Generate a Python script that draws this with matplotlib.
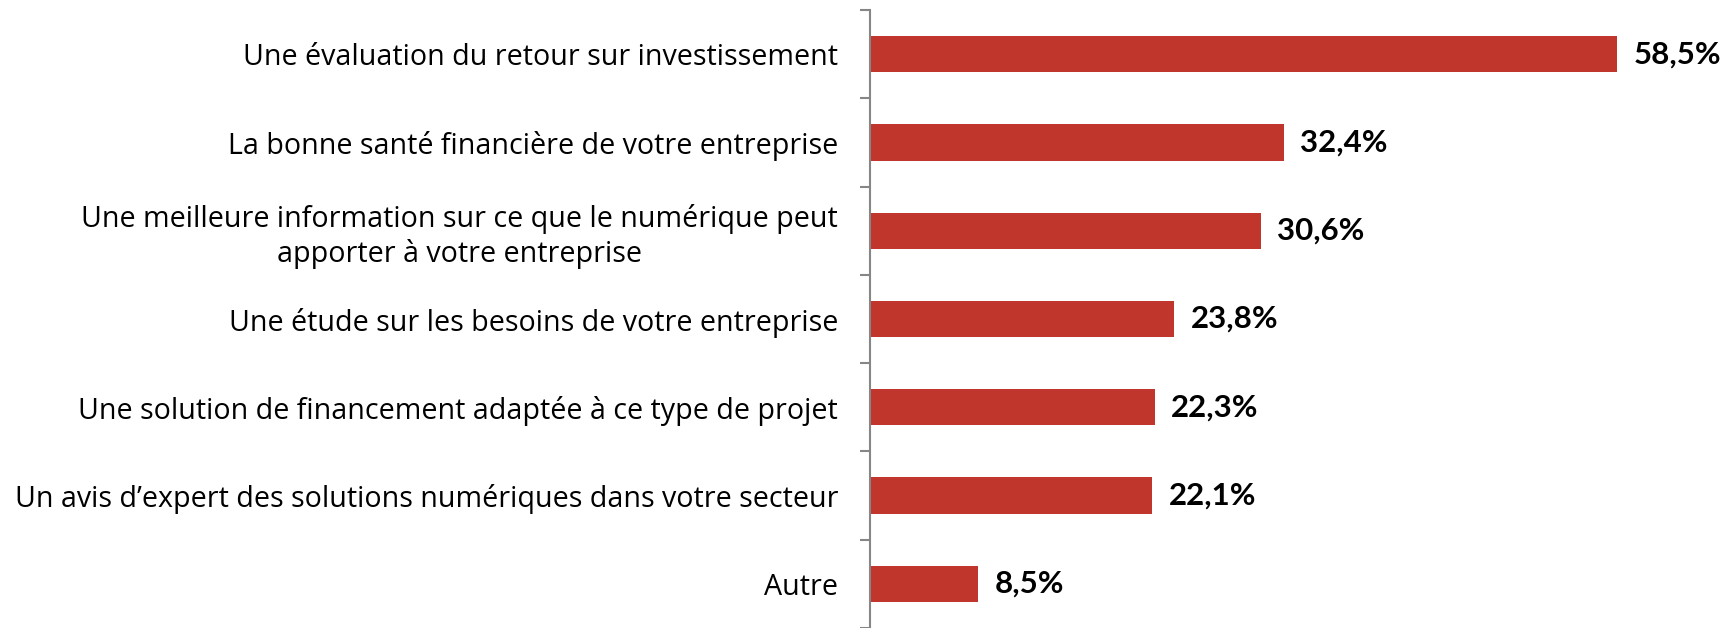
import matplotlib.pyplot as plt
import numpy as np

categories = [
    "Une évaluation du retour sur investissement",
    "La bonne santé financière de votre entreprise",
    "Une meilleure information sur ce que le numérique peut\napporter à votre entreprise",
    "Une étude sur les besoins de votre entreprise",
    "Une solution de financement adaptée à ce type de projet",
    "Un avis d\u2019expert des solutions numériques dans votre secteur",
    "Autre",
]
values = [58.5, 32.4, 30.6, 23.8, 22.3, 22.1, 8.5]
value_labels = ["58,5%", "32,4%", "30,6%", "23,8%", "22,3%", "22,1%", "8,5%"]

bar_colour = "#C0362C"
axis_colour = "#868686"

fig = plt.figure(figsize=(17.33, 6.28), dpi=100)
ax = fig.add_axes([0.502, 0.0, 0.498, 0.984])

ypos = np.arange(len(categories))
ax.barh(ypos, values, height=0.41, color=bar_colour)
ax.set_ylim(len(categories) - 0.5, -0.5)
ax.set_xlim(0, 67.6)

for y, v, lab in zip(ypos, values, value_labels):
    ax.text(v + 1.3, y, lab, va="center", ha="left", fontsize=22.5,
            fontweight="bold", family="Lato", color="black")

ax.set_yticks(ypos)
ax.set_yticklabels(categories, fontsize=20.6, family="Open Sans")
for t in ax.get_yticklabels():
    t.set_multialignment("center")
    t.set_linespacing(1.2)
ax.tick_params(axis="y", which="major", length=0, pad=23)
ax.set_yticks(np.arange(len(categories) + 1) - 0.5, minor=True)
ax.tick_params(axis="y", which="minor", length=7.2, width=1.5,
               color=axis_colour, direction="out")
ax.set_xticks([])

for side in ["top", "right", "bottom"]:
    ax.spines[side].set_visible(False)
ax.spines["left"].set_color(axis_colour)
ax.spines["left"].set_linewidth(1.5)

fig.savefig("out.png", dpi=100)
